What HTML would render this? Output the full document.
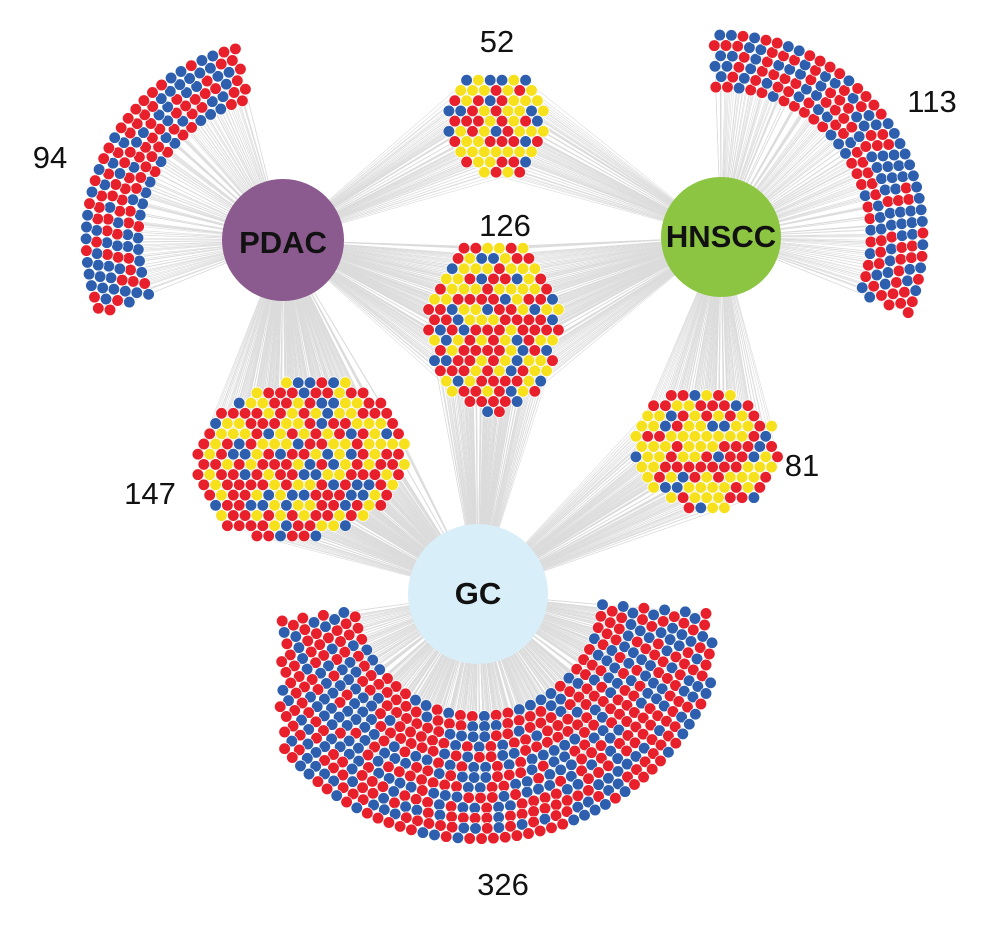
<!DOCTYPE html>
<html><head><meta charset="utf-8">
<style>
html,body{margin:0;padding:0;background:#fff;}
#wrap{position:relative;width:990px;height:926px;overflow:hidden;}
svg{position:absolute;left:0;top:0;}
.lbl{position:absolute;font-family:"Liberation Sans",sans-serif;font-size:31px;color:#111;transform:translate(-50%,-50%);white-space:nowrap;}
.nd{position:absolute;font-family:"Liberation Sans",sans-serif;font-weight:bold;font-size:31px;color:#111;transform:translate(-50%,-50%);white-space:nowrap;}
</style></head>
<body><div id="wrap">
<svg id="s" width="990" height="926" xmlns="http://www.w3.org/2000/svg">
<g id="edges" stroke="#cfcfcf" stroke-width="0.6" opacity="0.75"></g>
<g id="dots" stroke="#fff" stroke-width="0.7"></g>
<g id="nodes">
<circle cx="283" cy="240" r="61" fill="#8b5a8e"/>
<circle cx="721" cy="237" r="60" fill="#8cc541"/>
<circle cx="478" cy="594" r="70" fill="#d8eef9"/>
</g>
</svg>
<div class="lbl" style="left:497px;top:42px">52</div>
<div class="lbl" style="left:50px;top:158px">94</div>
<div class="lbl" style="left:932px;top:102px">113</div>
<div class="lbl" style="left:505px;top:226px">126</div>
<div class="lbl" style="left:150px;top:494px">147</div>
<div class="lbl" style="left:802px;top:466px">81</div>
<div class="lbl" style="left:503px;top:885px">326</div>
<div class="nd" style="left:283px;top:243px">PDAC</div>
<div class="nd" style="left:721px;top:237px">HNSCC</div>
<div class="nd" style="left:478px;top:594px">GC</div>
</div>
<script>
(function(){
var seed=12345;function rnd(){seed=(seed*1103515245+12345)%2147483648;return seed/2147483648;}
var NS="http://www.w3.org/2000/svg";
var E=document.getElementById("edges"),D=document.getElementById("dots");
var R="#e8202c",B="#2e5fae",Y="#f6e11c";
var P=[283,240],H=[721,237],G=[478,594];
var S=11.8;
function ellipse(cx,cy,rx,ry,rot){rot=(rot||0)*Math.PI/180;var cs=Math.cos(rot),sn=Math.sin(rot);var pts=[];var dy=S*0.866;var m=Math.max(rx,ry);for(var y=cy-m;y<=cy+m;y+=dy){var row=Math.round((y-cy)/dy);var off=(row%2?S/2:0);for(var x=cx-m+off;x<=cx+m;x+=S){var u=x-cx,v=y-cy;var a=(u*cs+v*sn)/rx,b=(-u*sn+v*cs)/ry;if(a*a+b*b<=1)pts.push([x,y]);}}return pts;}
function arc(cx,cy,r0,r1,a0,a1,sy){var pts=[];var k=0;for(var r=r0;r<=r1;r+=S*0.88){var n=Math.floor((a1-a0)*Math.PI/180*r/S);var off=(k%2)*0.5;for(var i=0;i<=n;i++){var t=(a0+(i+off)*(a1-a0)/(n+0.5))*Math.PI/180;pts.push([cx+r*Math.cos(t),cy+r*Math.sin(t)*(sy||1)]);}k++;}return pts;}
function draw(pts,hubs,cols){pts.forEach(function(p){hubs.forEach(function(h){var l=document.createElementNS(NS,"line");l.setAttribute("x1",h[0]);l.setAttribute("y1",h[1]);l.setAttribute("x2",p[0].toFixed(1));l.setAttribute("y2",p[1].toFixed(1));E.appendChild(l);});var c=document.createElementNS(NS,"circle");c.setAttribute("cx",p[0].toFixed(1));c.setAttribute("cy",p[1].toFixed(1));c.setAttribute("r","5.8");var u=rnd(),acc=0,col=cols[0][0];for(var i=0;i<cols.length;i++){acc+=cols[i][1];if(u<acc){col=cols[i][0];break;}}c.setAttribute("fill",col);D.appendChild(c);});}
var RB=[[R,0.55],[B,0.45]],RBY=[[R,0.45],[Y,0.38],[B,0.17]];
draw(arc(283,240,145,200,158,256),[P],RB);
draw(arc(721,237,150,205,-92,22),[H],RB);
draw(arc(478,594,125,255,5,172,0.98).filter(function(p){return p[1]<860&&p[0]>280&&p[0]<712;}),[G],RB);
draw(ellipse(497,124,52,54),[P,H],RBY);
draw(ellipse(493,326,67,88),[P,H,G],RBY);
draw(ellipse(300,460,108,80,-12),[P,G],RBY);
draw(ellipse(705,450,75,60,8),[H,G],RBY);
})();
</script>
</body></html>
